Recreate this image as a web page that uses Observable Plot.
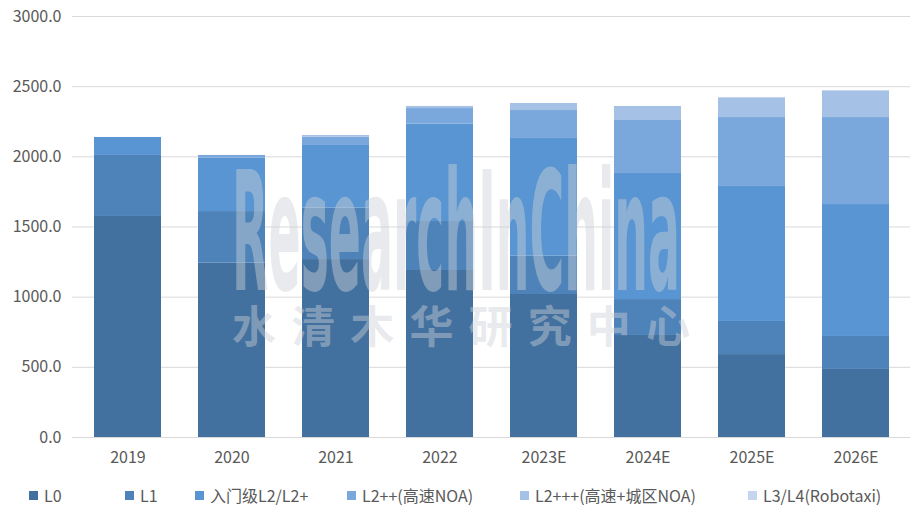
<!DOCTYPE html>
<html>
<head>
<meta charset="utf-8">
<script src="https://cdn.jsdelivr.net/npm/d3@7"></script>
<script src="https://cdn.jsdelivr.net/npm/@observablehq/plot@0.6"></script>
<style>
  html, body { margin: 0; padding: 0; background: #fff; }
  #wrap { position: relative; width: 924px; height: 519px; font-family: "Noto Sans CJK SC", "Noto Sans", sans-serif; }
  #legend { position: relative; height: 44px; font-size: 16px; color: #595959; }
  #legend .item { position: absolute; top: 8px; display: flex; align-items: center; gap: 6px; white-space: nowrap; }
  #legend .sw { width: 9px; height: 9px; display: inline-block; }
  #wm { position: absolute; left: 0; top: 0; pointer-events: none; }
</style>
</head>
<body>
<div id="wrap">
  <div id="chart"></div>
  <div id="legend"></div>
</div>
<script>
const years = ["2019", "2020", "2021", "2022", "2023E", "2024E", "2025E", "2026E"];
const seriesNames = ["L0", "L1", "入门级L2/L2+", "L2++(高速NOA)", "L2+++(高速+城区NOA)", "L3/L4(Robotaxi)"];
const colors = ["#43719f", "#4e83ba", "#5895d2", "#7aa8dc", "#a6c1e6", "#c5d5ef"];
const L0 = [1575, 1242, 1268, 1190, 1019, 727, 591, 485];
const L1 = [435, 368, 366, 349, 273, 256, 236, 235];
const L2 = [128, 380, 447, 694, 839, 898, 962, 940];
const L2pp = [0, 20, 59, 111, 199, 378, 491, 620];
const L2ppp = [0, 0, 12, 15, 50, 100, 136, 186];
const L3L4 = [0, 0, 0, 0, 0, 0, 7, 7];
const yTicks = [0, 500, 1000, 1500, 2000, 2500, 3000];

const seriesValues = [L0, L1, L2, L2pp, L2ppp, L3L4];
const data = [];
seriesValues.forEach((vals, si) => {
  vals.forEach((v, i) => data.push({year: years[i], series: seriesNames[si], value: v}));
});

const chart = Plot.plot({
  width: 924,
  height: 475,
  marginTop: 16,
  marginBottom: 38,
  marginLeft: 72,
  marginRight: 14,
  style: {fontFamily: '"Noto Sans CJK SC", "Noto Sans", sans-serif', fontSize: "16px", color: "#595959", background: "#fff"},
  x: {domain: years, paddingInner: 0.36, paddingOuter: 0.18, label: null, tickSize: 0, tickPadding: 14},
  y: {domain: [0, 3000], ticks: yTicks, label: null, tickFormat: d3.format(".1f"), tickSize: 0, tickPadding: 11},
  color: {domain: seriesNames, range: colors},
  marks: [
    Plot.ruleY(yTicks, {stroke: "#d9d9d9", strokeWidth: 1}),
    Plot.barY(data, Plot.stackY({x: "year", y: "value", fill: "series", order: seriesNames})),
  ]
});
chart.querySelectorAll("text").forEach(t => t.setAttribute("fill", "#595959"));
document.getElementById("chart").appendChild(chart);

const legendX = [29, 125, 195, 347, 520, 748];
const legend = document.getElementById("legend");
seriesNames.forEach((n, i) => {
  const it = document.createElement("div");
  it.className = "item";
  it.style.left = legendX[i] + "px";
  it.innerHTML = `<span class="sw" style="background:${colors[i]}"></span><span>${n}</span>`;
  legend.appendChild(it);
});

// watermark
const ns = "http://www.w3.org/2000/svg";
const wm = document.createElementNS(ns, "svg");
wm.setAttribute("id", "wm");
wm.setAttribute("width", 924);
wm.setAttribute("height", 519);
document.getElementById("wrap").appendChild(wm);

function addWm(str, x, y, size, family, targetW, scaleGlyphs) {
  const t = document.createElementNS(ns, "text");
  t.setAttribute("font-size", size);
  t.setAttribute("font-weight", "bold");
  t.setAttribute("font-family", family);
  t.setAttribute("fill", "rgb(205,208,214)");
  t.setAttribute("fill-opacity", "0.45");
  t.textContent = str;
  wm.appendChild(t);
  const w = t.getComputedTextLength();
  if (scaleGlyphs) {
    t.setAttribute("transform", `translate(${x},${y}) scale(${targetW / w},1)`);
  } else {
    const n = [...str].length;
    t.setAttribute("letter-spacing", (targetW - w) / (n - 1));
    t.setAttribute("transform", `translate(${x},${y})`);
  }
}
addWm("ResearchInChina", 232, 290, 165, '"Liberation Sans Narrow", "DejaVu Sans Condensed", sans-serif', 448, true);
addWm("水清木华研究中心", 232, 343, 44, '"Noto Sans CJK SC", sans-serif', 458, false);
</script>
</body>
</html>
